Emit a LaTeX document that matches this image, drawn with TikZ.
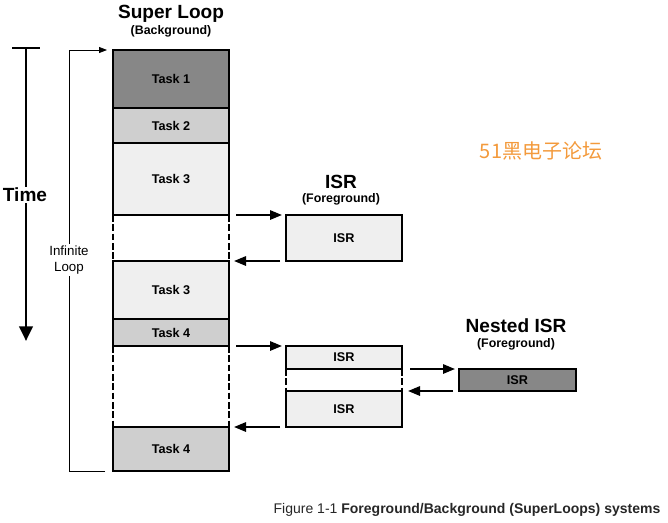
\documentclass[tikz,border=0pt]{standalone}
\usepackage{fontspec}
\setmainfont{Liberation Sans}
\newfontfamily\cjkfont{Noto Sans CJK SC}
\usetikzlibrary{positioning,arrows.meta}
\definecolor{taskdark}{HTML}{878787}
\definecolor{taskmid}{HTML}{CFCFCF}
\definecolor{tasklight}{HTML}{EFEFEF}
\definecolor{wmorange}{HTML}{F39A3C}

\begin{document}
\begin{tikzpicture}[
  x=0.75pt, y=-0.75pt,
  font=\fontsize{9.5}{11}\selectfont\bfseries,
  >={Triangle[length=9pt,width=7pt]},
  taskbox/.style={draw=black, line width=1.4pt, minimum width=87pt, inner sep=0pt, outer sep=0pt},
  isrbox/.style={taskbox, fill=tasklight},
  gapbox/.style={minimum width=87pt, inner sep=0pt, outer sep=0pt},
  gapside/.style={line width=1.4pt, dash pattern=on 5pt off 2pt},
  call/.style={->, line width=1.5pt},
  bigtitle/.style={font=\fontsize{14.3}{16}\selectfont\bfseries, inner sep=0pt},
  subtitle/.style={font=\fontsize{9.3}{10}\selectfont\bfseries, inner sep=0pt},
  loopline/.style={-{Triangle[length=6pt,width=4.5pt]}, line width=0.6pt},
]
\useasboundingbox (0,0) rectangle (668,522);

% ---- super loop (background) column ----
\node[taskbox, fill=taskdark, minimum height=43.5pt, anchor=north west] (t1) at (113,50) {Task 1};
\node[taskbox, fill=taskmid, minimum height=26.25pt, below=0pt of t1] (t2) {Task 2};
\node[taskbox, fill=tasklight, minimum height=54pt, below=0pt of t2] (t3) {Task 3};
\node[gapbox, minimum height=34.5pt, below=0pt of t3] (g1) {};
\node[taskbox, fill=tasklight, minimum height=43.5pt, below=0pt of g1] (t3b) {Task 3};
\node[taskbox, fill=taskmid, minimum height=20.25pt, below=0pt of t3b] (t4) {Task 4};
\node[gapbox, minimum height=60.75pt, below=0pt of t4] (g2) {};
\node[taskbox, fill=taskmid, minimum height=33pt, below=0pt of g2] (t4b) {Task 4};

% ---- ISR (foreground) ----
\node[isrbox, minimum height=34.5pt, anchor=north west] (isr1) at (286,215) {ISR};
\node[isrbox, minimum height=17.25pt, anchor=north west] (isr2) at (286,346) {ISR};
\node[gapbox, minimum height=16.5pt, below=0pt of isr2] (g3) {};
\node[isrbox, minimum height=27pt, below=0pt of g3] (isr3) {ISR};

% ---- nested ISR ----
\node[taskbox, fill=taskdark, minimum height=16.5pt, minimum width=87.75pt, anchor=north west] (nisr) at (459,369) {ISR};

% ---- dashed sides of the interrupted slots ----
\foreach \g in {g1,g2,g3}{
  \draw[gapside] (\g.north west) -- (\g.south west);
  \draw[gapside] (\g.north east) -- (\g.south east);
}

% ---- titles ----
\node[bigtitle] (sltitle) at (171,14) {Super Loop};
\node[subtitle] (slsub) at (171,31) {(Background)};
\node[bigtitle] (isrtitle) at (341,182) {ISR};
\node[subtitle] (isrsub) at (341,199) {(Foreground)};
\node[bigtitle] (ntitle) at (516,326) {Nested ISR};
\node[subtitle] (nsub) at (516,344) {(Foreground)};

% ---- interrupt entry / return ----
\draw[call] ([xshift=5.25pt]t3.south east) -- ([xshift=-3pt]isr1.north west);
\draw[call] ([xshift=-4.5pt]isr1.south west) -- ([xshift=3.75pt]t3b.north east);
\draw[call] ([xshift=5.25pt]t4.south east) -- ([xshift=-3pt]isr2.north west);
\draw[call] ([xshift=-4.5pt]isr3.south west) -- ([xshift=3.75pt]t4b.north east);
\draw[call] ([xshift=6pt]isr2.south east) -- ([xshift=-3pt]nisr.north west);
\draw[call] ([xshift=-4.5pt]nisr.south west) -- ([xshift=4.5pt]isr3.north east);

% ---- time axis ----
\coordinate (tbarl) at (12,48);
\coordinate (tbarr) at (40,48);
\coordinate (ttop) at (26,48);
\coordinate (tbot) at (26,341);
\draw[line width=2.2pt] (tbarl) -- (tbarr);
\draw[line width=2.2pt, -{Triangle[length=11pt,width=10pt]}] (ttop) -- (tbot);
\node[bigtitle, fill=white, inner sep=1pt] (time) at (25,195) {Time};

% ---- infinite loop ----
\coordinate (loopx) at (69,0);
\draw[loopline] ([xshift=-6pt]t4b.south west) -- (t4b.south west -| loopx)
  -- (t1.north west -| loopx) -- ([xshift=-4.5pt]t1.north west);
\node[fill=white, inner sep=1pt, align=center, font=\fontsize{10}{12}\selectfont] (inf) at (69,260) {Infinite\\Loop};

% ---- watermark and caption ----
\node[text=wmorange, font=\cjkfont\fontsize{15}{18}\selectfont] (wm) at (541,151) {51黑电子论坛};
\node[text=black!85, font=\fontsize{10.5}{12}\selectfont\mdseries] (cap) at (467,510)
  {Figure 1-1 \textbf{Foreground/Background (SuperLoops) systems}};
\end{tikzpicture}
\end{document}
